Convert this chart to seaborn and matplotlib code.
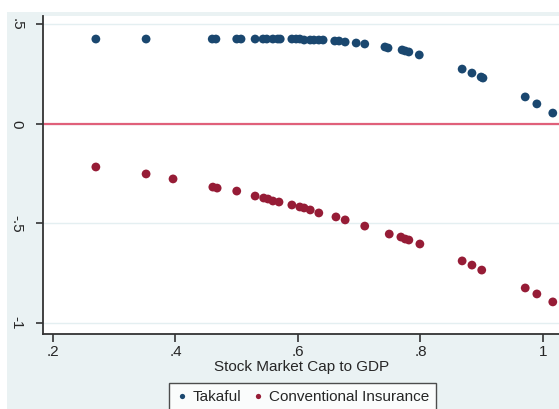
import matplotlib
matplotlib.use("Agg")
import matplotlib.pyplot as plt
from matplotlib.patches import Rectangle
import numpy as np
import pandas as pd
import seaborn as sns

# Fitted effects against stock market capitalisation (share of GDP)
takaful_x = [0.270, 0.352, 0.460, 0.466, 0.500, 0.507, 0.530, 0.543, 0.549, 0.559,
             0.567, 0.571, 0.590, 0.597, 0.603, 0.610, 0.620, 0.626, 0.634, 0.641,
             0.660, 0.667, 0.677, 0.695, 0.709, 0.742, 0.747, 0.770, 0.775, 0.781,
             0.798, 0.868, 0.884, 0.899, 0.902, 0.971, 0.990, 1.016]
takaful_y = [0.427, 0.427, 0.427, 0.427, 0.427, 0.427, 0.427, 0.427, 0.427, 0.427,
             0.427, 0.427, 0.427, 0.427, 0.427, 0.422, 0.422, 0.422, 0.422, 0.422,
             0.417, 0.417, 0.412, 0.407, 0.402, 0.387, 0.382, 0.372, 0.367, 0.362,
             0.347, 0.276, 0.256, 0.236, 0.231, 0.136, 0.101, 0.055]

conv_x = [0.270, 0.352, 0.396, 0.461, 0.468, 0.500, 0.530, 0.544, 0.551, 0.559,
          0.569, 0.590, 0.603, 0.610, 0.620, 0.634, 0.662, 0.677, 0.709, 0.749,
          0.768, 0.775, 0.781, 0.799, 0.868, 0.884, 0.900, 0.971, 0.990, 1.016]
conv_y = [-0.216, -0.251, -0.276, -0.317, -0.322, -0.337, -0.362, -0.372, -0.377, -0.387,
          -0.392, -0.407, -0.417, -0.422, -0.432, -0.447, -0.467, -0.482, -0.513, -0.553,
          -0.568, -0.578, -0.583, -0.603, -0.688, -0.709, -0.734, -0.824, -0.854, -0.894]

series_names = ["Takaful", "Conventional Insurance"]
series_colors = ["#1a476f", "#961c36"]

x_ticks = [0.2, 0.4, 0.6, 0.8, 1.0]
x_tick_labels = [".2", ".4", ".6", ".8", "1"]
y_ticks = [0.5, 0, -0.5, -1]
y_tick_labels = [".5", "0", "-.5", "-1"]

df = pd.concat([
    pd.DataFrame({"mcap": takaful_x, "effect": takaful_y, "group": series_names[0]}),
    pd.DataFrame({"mcap": conv_x, "effect": conv_y, "group": series_names[1]}),
], ignore_index=True)

sns.set_theme(style="white")
plt.rcParams["font.family"] = ["Liberation Sans", "DejaVu Sans"]

W, H = 559, 409
fig = plt.figure(figsize=(W / 100, H / 100), dpi=100, facecolor="white")

# light graph-region background
bg = "#eaf2f3"
fig.patches.append(Rectangle((7 / W, 0), 1.0, 1 - 12 / H, transform=fig.transFigure,
                             facecolor=bg, edgecolor="none", zorder=-10))

left, right, top, bottom = 43, 570, 16, 334
ax = fig.add_axes([left / W, 1 - bottom / H, (right - left) / W, (bottom - top) / H])
ax.set_facecolor("white")

sns.scatterplot(data=df, x="mcap", y="effect", hue="group", hue_order=series_names,
                palette=series_colors, s=40, linewidth=0, ax=ax, zorder=3)

ax.set_xlim(0.1837, 1.0441)
ax.set_ylim(-1.0553, 0.5427)

for yv in y_ticks:
    ax.axhline(yv, color="#e4eff1", lw=1.0, zorder=0)
ax.axhline(0, color="#e0607a", lw=1.6, zorder=2)

ax.set_xticks(x_ticks)
ax.set_xticklabels(x_tick_labels)
ax.set_yticks(y_ticks)
ax.set_yticklabels(y_tick_labels, rotation=-90, va="center")

ax.tick_params(axis="x", direction="out", length=6, width=1.2, color="#333333",
               labelsize=11, pad=2, bottom=True)
ax.tick_params(axis="y", direction="out", length=5, width=1.2, color="#333333",
               labelsize=11, pad=9, left=True)

for s in ["top", "right"]:
    ax.spines[s].set_visible(False)
for s in ["left", "bottom"]:
    ax.spines[s].set_color("#333333")
    ax.spines[s].set_linewidth(1.3)

ax.set_ylabel("")
ax.set_xlabel("Stock Market Cap to GDP", fontsize=11)
ax.xaxis.set_label_coords((302 - left) / (right - left), -(360 - bottom) / (bottom - top))

handles, labels = ax.get_legend_handles_labels()
ax.get_legend().remove()
leg = fig.legend(handles, labels, loc="upper left", bbox_to_anchor=(169 / W, 1 - 383 / H),
                 ncol=2, frameon=True, fancybox=False, fontsize=11, markerscale=0.6,
                 borderaxespad=0, handletextpad=0.3, columnspacing=0.7, handlelength=0.8,
                 borderpad=0.45)
leg.get_frame().set_edgecolor("#222222")
leg.get_frame().set_linewidth(1.0)
leg.get_frame().set_facecolor("white")

fig.savefig("out.png", dpi=100, facecolor="white")
